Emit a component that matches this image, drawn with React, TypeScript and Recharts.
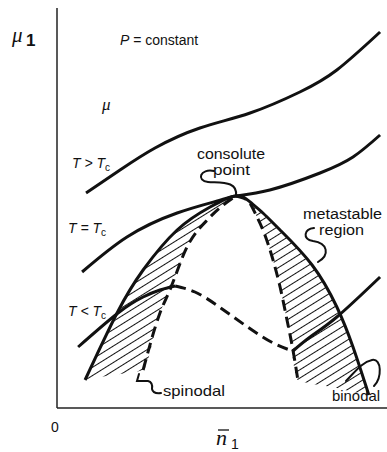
import { ComposedChart, Line, Area, XAxis, YAxis, ReferenceLine } from 'recharts';

// chemical potential mu1 against mean mole fraction n1 (arbitrary units, 0..1)
const aboveTc = [
  { n: 0.088, mu: 0.5375 }, { n: 0.191, mu: 0.595 }, { n: 0.297, mu: 0.65 },
  { n: 0.433, mu: 0.7 }, { n: 0.585, mu: 0.7375 }, { n: 0.736, mu: 0.79 },
  { n: 0.848, mu: 0.845 }, { n: 0.979, mu: 0.94 },
];

const atTc = [
  { n: 0.076, mu: 0.34 }, { n: 0.212, mu: 0.4275 }, { n: 0.364, mu: 0.4875 },
  { n: 0.494, mu: 0.5195 }, { n: 0.542, mu: 0.53 }, { n: 0.645, mu: 0.545 },
  { n: 0.797, mu: 0.5875 }, { n: 0.897, mu: 0.6275 }, { n: 0.979, mu: 0.6825 },
];

// below Tc: stable branch, unstable (dashed) loop, stable branch
const belowTcLeft = [
  { n: 0.064, mu: 0.1525 }, { n: 0.185, mu: 0.2375 }, { n: 0.261, mu: 0.2775 },
  { n: 0.312, mu: 0.295 }, { n: 0.358, mu: 0.305 },
];
const belowTcLoop = [
  { n: 0.358, mu: 0.305 }, { n: 0.418, mu: 0.29 }, { n: 0.479, mu: 0.26 },
  { n: 0.539, mu: 0.225 }, { n: 0.6, mu: 0.19 }, { n: 0.661, mu: 0.16 },
  { n: 0.715, mu: 0.1425 },
];
const belowTcRight = [
  { n: 0.715, mu: 0.1425 }, { n: 0.767, mu: 0.1775 }, { n: 0.848, mu: 0.2275 },
  { n: 0.979, mu: 0.3275 },
];

const binodal = [
  { n: 0.085, mu: 0.07 }, { n: 0.182, mu: 0.2375 }, { n: 0.261, mu: 0.345 },
  { n: 0.364, mu: 0.445 }, { n: 0.464, mu: 0.5025 }, { n: 0.542, mu: 0.53 },
  { n: 0.585, mu: 0.515 }, { n: 0.624, mu: 0.4875 }, { n: 0.676, mu: 0.445 },
  { n: 0.773, mu: 0.3575 }, { n: 0.848, mu: 0.2525 }, { n: 0.897, mu: 0.1525 },
  { n: 0.945, mu: 0.0325 },
];

const spinodalLeft = [
  { n: 0.261, mu: 0.095 }, { n: 0.312, mu: 0.2375 }, { n: 0.342, mu: 0.295 },
  { n: 0.394, mu: 0.4025 }, { n: 0.464, mu: 0.4775 }, { n: 0.542, mu: 0.53 },
];
const spinodalRight = [
  { n: 0.542, mu: 0.53 }, { n: 0.576, mu: 0.52 }, { n: 0.606, mu: 0.4775 },
  { n: 0.63, mu: 0.4325 }, { n: 0.652, mu: 0.3775 }, { n: 0.676, mu: 0.3025 },
  { n: 0.697, mu: 0.22 }, { n: 0.715, mu: 0.145 }, { n: 0.73, mu: 0.07 },
];

// metastable bands between binodal (hi) and spinodal / bottom edge (lo)
const hatchLeft = [
  { n: 0.085, lo: 0.07, hi: 0.07 }, { n: 0.13, lo: 0.0775, hi: 0.1475 },
  { n: 0.182, lo: 0.084, hi: 0.2375 }, { n: 0.261, lo: 0.095, hi: 0.345 },
  { n: 0.312, lo: 0.2375, hi: 0.395 }, { n: 0.342, lo: 0.295, hi: 0.425 },
  { n: 0.394, lo: 0.4025, hi: 0.4625 }, { n: 0.464, lo: 0.4775, hi: 0.5025 },
  { n: 0.542, lo: 0.53, hi: 0.53 },
];
const hatchRight = [
  { n: 0.542, lo: 0.53, hi: 0.53 }, { n: 0.576, lo: 0.52, hi: 0.519 },
  { n: 0.606, lo: 0.4775, hi: 0.5 }, { n: 0.652, lo: 0.3775, hi: 0.466 },
  { n: 0.697, lo: 0.22, hi: 0.427 }, { n: 0.73, lo: 0.07, hi: 0.397 },
  { n: 0.848, lo: 0.05, hi: 0.2525 }, { n: 0.897, lo: 0.04, hi: 0.1525 },
  { n: 0.945, lo: 0.0325, hi: 0.0325 },
];

const INK = '#111';
const SANS = "'Liberation Sans', Arial, sans-serif";
const SERIF = "'Liberation Serif', 'DejaVu Serif', serif";

function Annotations() {
  return (
    <svg
      width={387}
      height={452}
      style={{ position: 'absolute', left: 0, top: 0, pointerEvents: 'none' }}
    >
      <defs>
        <pattern id="hatch" width="10" height="7" patternUnits="userSpaceOnUse" patternTransform="rotate(-32)">
          <line x1="0" y1="3.5" x2="10" y2="3.5" stroke={INK} strokeWidth="1" />
        </pattern>
      </defs>
      <g fill={INK}>
        <text x={12} y={42} fontFamily={SERIF} fontStyle="italic" fontSize={21}>μ</text>
        <text x={26} y={46} fontFamily={SANS} fontWeight="bold" fontSize={17}>1</text>

        <text x={120} y={45} fontFamily={SANS} fontSize={14}>
          <tspan fontStyle="italic">P</tspan> = constant
        </text>
        <text x={102} y={110} fontFamily={SERIF} fontStyle="italic" fontSize={17}>μ</text>

        <text x={72} y={168} fontFamily={SANS} fontStyle="italic" fontSize={14}>
          T &gt; T<tspan fontStyle="normal" fontSize={10} dy={3}>c</tspan>
        </text>
        <text x={68} y={233} fontFamily={SANS} fontStyle="italic" fontSize={14}>
          T = T<tspan fontStyle="normal" fontSize={10} dy={3}>c</tspan>
        </text>
        <text x={68} y={316} fontFamily={SANS} fontStyle="italic" fontSize={14}>
          T &lt; T<tspan fontStyle="normal" fontSize={10} dy={3}>c</tspan>
        </text>

        <text x={197} y={159} fontFamily={SANS} fontSize={15} textLength={68} lengthAdjust="spacingAndGlyphs">consolute</text>
        <text x={213} y={175} fontFamily={SANS} fontSize={15} textLength={37} lengthAdjust="spacingAndGlyphs">point</text>
        <text x={303} y={219} fontFamily={SANS} fontSize={14} textLength={79} lengthAdjust="spacingAndGlyphs">metastable</text>
        <text x={319} y={235} fontFamily={SANS} fontSize={15} textLength={45} lengthAdjust="spacingAndGlyphs">region</text>
        <text x={163} y={396} fontFamily={SANS} fontSize={15} textLength={62} lengthAdjust="spacingAndGlyphs">spinodal</text>
        <text x={332} y={401} fontFamily={SANS} fontSize={15} textLength={48} lengthAdjust="spacingAndGlyphs">binodal</text>

        <text x={51} y={432} fontFamily={SANS} fontSize={14}>0</text>
        <text x={216} y={445} fontFamily={SERIF} fontStyle="italic" fontSize={22}>n</text>
        <line x1={218} y1={430} x2={229} y2={430} stroke={INK} strokeWidth={1.3} />
        <text x={231} y={449} fontFamily={SANS} fontSize={14}>1</text>
      </g>
      <g fill="none" stroke={INK} strokeWidth={2} strokeLinecap="round">
        <path d="M214,171 C200,168 196,181 208,182 C222,183 238,181 236,196" />
        <path d="M314,228 C304,229 302,239 313,241 C328,243 330,255 318,262" />
        <path d="M139,374 L137,381 L148,381 Q153,382 152,389 Q153,394 161,393" />
        <path d="M346,381 C355,372 362,362 372,360 C382,358 382,378 374,386" />
      </g>
    </svg>
  );
}

export default function App() {
  const solid = { stroke: INK, strokeWidth: 3, dot: false, isAnimationActive: false, type: 'natural' as const };
  const dashed = { ...solid, strokeDasharray: '11 6' };

  return (
    <div style={{ position: 'absolute', left: 0, top: 0, width: 387, height: 452, background: '#fff' }}>
      <ComposedChart width={387} height={452} margin={{ top: 8, right: 0, left: 57, bottom: 44 }}>
        <XAxis type="number" dataKey="n" domain={[0, 1]} allowDataOverflow hide />
        <YAxis type="number" domain={[0, 1]} allowDataOverflow hide />
        <ReferenceLine x={0} stroke="#222" strokeWidth={1.5} />
        <ReferenceLine y={0} stroke="#222" strokeWidth={1.5} />

        <Area data={hatchLeft} dataKey={(d: any) => [d.lo, d.hi]} type="monotone" stroke="none" fill="url(#hatch)" fillOpacity={1} isAnimationActive={false} />
        <Area data={hatchRight} dataKey={(d: any) => [d.lo, d.hi]} type="monotone" stroke="none" fill="url(#hatch)" fillOpacity={1} isAnimationActive={false} />

        <Line data={aboveTc} dataKey="mu" {...solid} />
        <Line data={atTc} dataKey="mu" {...solid} />
        <Line data={binodal} dataKey="mu" {...solid} />
        <Line data={spinodalLeft} dataKey="mu" {...dashed} type="monotone" />
        <Line data={spinodalRight} dataKey="mu" {...dashed} type="monotone" />
        <Line data={belowTcLeft} dataKey="mu" {...solid} />
        <Line data={belowTcLoop} dataKey="mu" {...dashed} />
        <Line data={belowTcRight} dataKey="mu" {...solid} />
      </ComposedChart>
      <Annotations />
    </div>
  );
}
